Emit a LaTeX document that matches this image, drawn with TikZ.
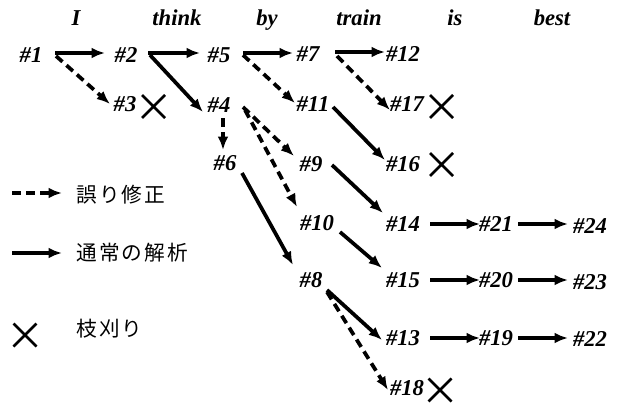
\documentclass[tikz,border=0pt]{standalone}
\usepackage{fontspec}
\setmainfont{Liberation Serif}
\newfontfamily\jpfont{Noto Sans CJK JP}
\usetikzlibrary{arrows.meta,calc}
\tikzset{
  lab/.style={anchor=base, inner sep=0pt, font=\fontsize{17}{20}\selectfont\bfseries\itshape},
  jp/.style={anchor=west, inner sep=0pt, font=\jpfont\fontsize{15.5}{18}\selectfont},
  sol/.style={line width=2.8pt, -{Latex[length=10pt,width=8pt]}},
  dsh/.style={sol, dash pattern=on 6.5pt off 4pt},
  xmark/.style={line width=2pt},
}
\newcommand{\xm}[2]{\draw[xmark] ($(#1)+(-#2,-#2)$) -- ($(#1)+(#2,#2)$) ($(#1)+(-#2,#2)$) -- ($(#1)+(#2,-#2)$);}
\begin{document}
\begin{tikzpicture}[x=0.75pt,y=-0.75pt]
\useasboundingbox (0,0) rectangle (621,403);
% words
\node[lab] (wI) at (76,26) {I};
\node[lab] (wthink) at (177,26) {think};
\node[lab] (wby) at (267,26) {by};
\node[lab] (wtrain) at (359,26) {train};
\node[lab] (wis) at (455,26) {is};
\node[lab] (wbest) at (552,26) {best};
% nodes
\node[lab] (n1) at (31,63) {\#1};
\node[lab] (n2) at (126,63) {\#2};
\node[lab] (n5) at (219,63) {\#5};
\node[lab] (n7) at (308,62) {\#7};
\node[lab] (n12) at (403,62) {\#12};
\node[lab] (n3) at (125,111) {\#3};
\node[lab] (n4) at (219,113) {\#4};
\node[lab] (n11) at (313,112) {\#11};
\node[lab] (n17) at (407,112) {\#17};
\node[lab] (n6) at (225,170) {\#6};
\node[lab] (n9) at (311,171) {\#9};
\node[lab] (n16) at (403,171) {\#16};
\node[lab] (n10) at (317,230) {\#10};
\node[lab] (n14) at (403,231) {\#14};
\node[lab] (n21) at (496,231) {\#21};
\node[lab] (n24) at (590,233) {\#24};
\node[lab] (n8) at (311,287) {\#8};
\node[lab] (n15) at (403,287) {\#15};
\node[lab] (n20) at (496,287) {\#20};
\node[lab] (n23) at (590,289) {\#23};
\node[lab] (n13) at (403,345) {\#13};
\node[lab] (n19) at (496,345) {\#19};
\node[lab] (n22) at (590,346) {\#22};
\node[lab] (n18) at (407,395) {\#18};
% connectors (offsets from each node's base point)
\draw[sol] ([shift={(24,-10)}]n1.base) -- ([shift={(-21,-10)}]n2.base);
\draw[dsh] ([shift={(25,-7)}]n1.base) -- ([shift={(-15,-7)}]n3.base);
\draw[sol] ([shift={(22,-10)}]n2.base) -- ([shift={(-19,-10)}]n5.base);
\draw[sol] ([shift={(24,-8)}]n2.base) -- ([shift={(-16,-1)}]n4.base);
\draw[sol] ([shift={(24,-10)}]n5.base) -- ([shift={(-15,-9)}]n7.base);
\draw[dsh] ([shift={(24,-8)}]n5.base) -- ([shift={(-18,-9)}]n11.base);
\draw[sol] ([shift={(27,-10)}]n7.base) -- ([shift={(-18,-10)}]n12.base);
\draw[dsh] ([shift={(29,-6)}]n7.base) -- ([shift={(-17,-2)}]n17.base);
\draw[dsh] ([shift={(4,5)}]n4.base) -- ([shift={(-2,-20)}]n6.base);
\draw[dsh] ([shift={(24,-6)}]n4.base) -- ([shift={(-17,-15)}]n9.base);
\draw[dsh] ([shift={(26,-3)}]n4.base) -- ([shift={(-20,-23)}]n10.base);
\draw[sol] ([shift={(17,3)}]n6.base) -- ([shift={(-18,-22)}]n8.base);
\draw[sol] ([shift={(20,-5)}]n11.base) -- ([shift={(-18,-11)}]n16.base);
\draw[sol] ([shift={(21,-6)}]n9.base) -- ([shift={(-20,-18)}]n14.base);
\draw[sol] ([shift={(23,2)}]n10.base) -- ([shift={(-21,-19)}]n15.base);
\draw[sol] ([shift={(16,3)}]n8.base) -- ([shift={(-21,-5)}]n13.base);
\draw[dsh] ([shift={(16,5)}]n8.base) -- ([shift={(-19,-5)}]n18.base);
\draw[sol] ([shift={(27,-7)}]n14.base) -- ([shift={(-16,-7)}]n21.base);
\draw[sol] ([shift={(22,-7)}]n21.base) -- ([shift={(-22,-9)}]n24.base);
\draw[sol] ([shift={(27,-7)}]n15.base) -- ([shift={(-16,-7)}]n20.base);
\draw[sol] ([shift={(22,-7)}]n20.base) -- ([shift={(-22,-9)}]n23.base);
\draw[sol] ([shift={(27,-7)}]n13.base) -- ([shift={(-16,-7)}]n19.base);
\draw[sol] ([shift={(22,-7)}]n19.base) -- ([shift={(-22,-8)}]n22.base);
% pruning marks
\coordinate (x3) at (153.5,106.5);
\coordinate (x17) at (441.5,106.5);
\coordinate (x16) at (441.5,164.5);
\coordinate (x18) at (440,390);
\xm{x3}{11.5}
\xm{x17}{11.5}
\xm{x16}{11.5}
\xm{x18}{11.5}
% legend
\coordinate (ld1) at (12,193);
\coordinate (ld2) at (62,193);
\coordinate (ls1) at (12,253);
\coordinate (ls2) at (62,253);
\coordinate (lx) at (25,335);
\draw[dsh] (ld1) -- (ld2);
\draw[sol] (ls1) -- (ls2);
\xm{lx}{11.5}
\node[jp] (t1) at (76,195) {誤\kern1.6pt り\kern1.6pt 修\kern1.6pt 正};
\node[jp] (t2) at (76,253) {通\kern1.6pt 常\kern1.6pt の\kern1.6pt 解\kern1.6pt 析};
\node[jp] (t3) at (76,329) {枝\kern1.6pt 刈\kern1.6pt り};
\end{tikzpicture}
\end{document}
